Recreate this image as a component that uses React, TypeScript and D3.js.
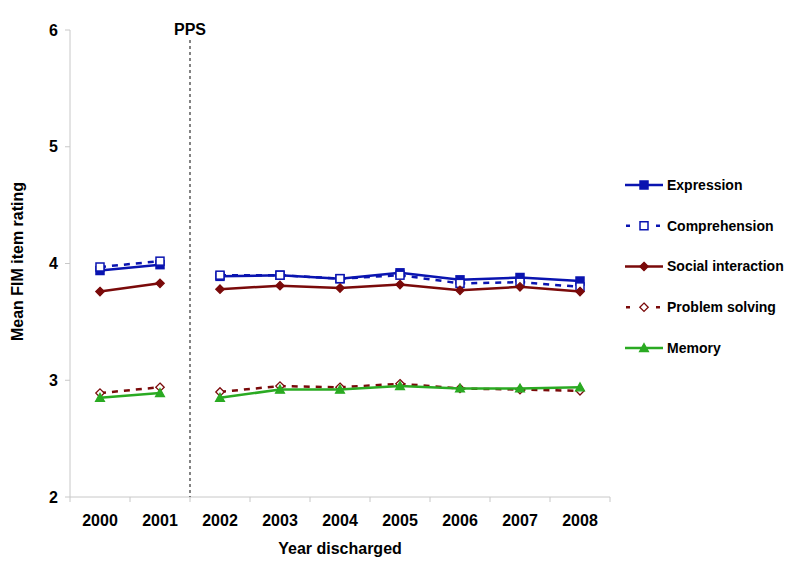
import React from 'react';
import * as d3 from 'd3';

const years = ['2000', '2001', '2002', '2003', '2004', '2005', '2006', '2007', '2008'];
const yTicks = [2, 3, 4, 5, 6];

// one value per year; the lines break between 2001 and 2002 (PPS)
const expression = [3.94, 3.99, 3.89, 3.90, 3.87, 3.92, 3.86, 3.88, 3.85];
const comprehension = [3.97, 4.02, 3.90, 3.90, 3.87, 3.90, 3.83, 3.84, 3.80];
const socialInteraction = [3.76, 3.83, 3.78, 3.81, 3.79, 3.82, 3.77, 3.80, 3.76];
const problemSolving = [2.89, 2.94, 2.90, 2.95, 2.94, 2.97, 2.93, 2.92, 2.91];
const memory = [2.85, 2.89, 2.85, 2.92, 2.92, 2.95, 2.93, 2.93, 2.94];

const BLUE = '#0a14b0';
const RED = '#7a0a0a';
const GREEN = '#2aaa22';

type Marker = 'square' | 'diamond' | 'triangle';

const series = [
  { name: 'Expression', values: expression, color: BLUE, dashed: false, marker: 'square' as Marker, filled: true },
  { name: 'Comprehension', values: comprehension, color: BLUE, dashed: true, marker: 'square' as Marker, filled: false },
  { name: 'Social interaction', values: socialInteraction, color: RED, dashed: false, marker: 'diamond' as Marker, filled: true },
  { name: 'Problem solving', values: problemSolving, color: RED, dashed: true, marker: 'diamond' as Marker, filled: false },
  { name: 'Memory', values: memory, color: GREEN, dashed: false, marker: 'triangle' as Marker, filled: true },
];

const width = 800;
const height = 567;
const margin = { top: 30, right: 190, bottom: 70, left: 70 };
const FONT = 'Liberation Sans, Arial, sans-serif';

const MarkerShape = ({ kind, x, y, color, filled }: { kind: Marker; x: number; y: number; color: string; filled: boolean }) => {
  const fill = filled ? color : '#fff';
  if (kind === 'square') {
    return <rect x={x - 4} y={y - 4} width={8} height={8} fill={fill} stroke={color} strokeWidth={1.5} />;
  }
  if (kind === 'diamond') {
    const s = 4.2;
    return <path d={`M${x},${y - s}L${x + s},${y}L${x},${y + s}L${x - s},${y}Z`} fill={fill} stroke={color} strokeWidth={1.3} />;
  }
  const s = 4.5;
  return <path d={`M${x},${y - s}L${x + s},${y + s * 0.8}L${x - s},${y + s * 0.8}Z`} fill={fill} stroke={color} strokeWidth={1.2} />;
};

export default function App() {
  const innerW = width - margin.left - margin.right;
  const innerH = height - margin.top - margin.bottom;

  const x = d3.scaleBand<string>().domain(years).range([margin.left, margin.left + innerW]).padding(0);
  const y = d3.scaleLinear().domain([2, 6]).range([margin.top + innerH, margin.top]);
  const cx = (yr: string) => (x(yr) as number) + x.bandwidth() / 2;

  const line = d3.line<[string, number]>()
    .x(d => cx(d[0]))
    .y(d => y(d[1]));

  const segments = [[0, 2], [2, 9]];
  const ppsX = x('2002') as number;
  const axisColor = '#c8c8c8';
  const baseY = y(2);

  return (
    <svg width={width} height={height} style={{ position: 'absolute', left: 0, top: 0, background: '#fff' }} fontFamily={FONT}>
      {/* axes */}
      <line x1={margin.left} x2={margin.left} y1={y(6)} y2={baseY} stroke={axisColor} strokeWidth={1} />
      <line x1={margin.left} x2={margin.left + innerW} y1={baseY} y2={baseY} stroke={axisColor} strokeWidth={1} />
      {yTicks.map(t => (
        <g key={t}>
          <line x1={margin.left - 5} x2={margin.left} y1={y(t)} y2={y(t)} stroke={axisColor} />
          <text x={margin.left - 12} y={y(t)} dy="0.35em" textAnchor="end" fontSize={16} fontWeight="bold">{t}</text>
        </g>
      ))}
      {years.map((yr, i) => (
        <g key={yr}>
          <line x1={x(yr) as number} x2={x(yr) as number} y1={baseY} y2={baseY + 5} stroke={axisColor} />
          {i === years.length - 1 && (
            <line x1={(x(yr) as number) + x.bandwidth()} x2={(x(yr) as number) + x.bandwidth()} y1={baseY} y2={baseY + 5} stroke={axisColor} />
          )}
          <text x={cx(yr)} y={baseY + 29} textAnchor="middle" fontSize={16} fontWeight="bold">{yr}</text>
        </g>
      ))}
      <text x={margin.left + innerW / 2} y={baseY + 57} textAnchor="middle" fontSize={16} fontWeight="bold">Year discharged</text>
      <text transform={`translate(23,${y(4) - 2}) rotate(-90)`} textAnchor="middle" fontSize={16} fontWeight="bold">Mean FIM item rating</text>

      {/* PPS marker */}
      <line x1={ppsX} x2={ppsX} y1={40} y2={baseY} stroke="#333" strokeWidth={1.2} strokeDasharray="3,3" />
      <text x={ppsX} y={35} textAnchor="middle" fontSize={16} fontWeight="bold">PPS</text>

      {/* series */}
      {series.map(s => (
        <g key={s.name}>
          {segments.map(([a, b]) => {
            const pts = years.slice(a, b).map((yr, j) => [yr, s.values[a + j]] as [string, number]);
            return (
              <path key={a} d={line(pts) as string} fill="none" stroke={s.color} strokeWidth={2.5}
                strokeDasharray={s.dashed ? '6,6' : undefined} />
            );
          })}
          {years.map((yr, i) => (
            <MarkerShape key={yr} kind={s.marker} x={cx(yr)} y={y(s.values[i])} color={s.color} filled={s.filled} />
          ))}
        </g>
      ))}

      {/* legend */}
      {series.map((s, i) => {
        const ly = 185 + i * 40.75;
        return (
          <g key={s.name}>
            {s.dashed ? (
              <>
                <line x1={626} x2={630} y1={ly} y2={ly} stroke={s.color} strokeWidth={2.5} />
                <line x1={656} x2={660} y1={ly} y2={ly} stroke={s.color} strokeWidth={2.5} />
              </>
            ) : (
              <line x1={625} x2={663} y1={ly} y2={ly} stroke={s.color} strokeWidth={2.5} />
            )}
            <MarkerShape kind={s.marker} x={644} y={ly} color={s.color} filled={s.filled} />
            <text x={667} y={ly} dy="0.35em" fontSize={14} fontWeight="bold">{s.name}</text>
          </g>
        );
      })}
    </svg>
  );
}
